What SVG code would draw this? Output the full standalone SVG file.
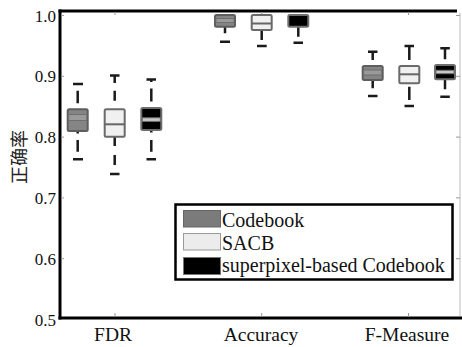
<svg xmlns="http://www.w3.org/2000/svg" width="462" height="347" viewBox="0 0 462 347">
<style>
.t{font-family:"Liberation Serif","Times New Roman",serif;fill:#111}
.yt{font-size:17px;text-anchor:end}
.xt{font-size:19.5px;text-anchor:middle}
.lg{font-size:20px}
.cb{fill:#858585;stroke:#5e5e5e;stroke-width:2}
.sa{fill:#f0f0f0;stroke:#6a6a6a;stroke-width:2}
.sp{fill:#000;stroke:#6e6e6e;stroke-width:2}
.mcb{fill:#9a9a9a;stroke:#6f6f6f;stroke-width:1}
.msa{stroke:#666;stroke-width:2}
.msp{fill:#c8c8c8;stroke:#707070;stroke-width:1}
.w{stroke:#1a1a1a;stroke-width:2.5;fill:none}
.ax{stroke:#000;stroke-width:3;fill:none}
.tk{stroke:#999;stroke-width:1}
</style>
<rect width="462" height="347" fill="#fff"/>
<g id="axes">
<line class="ax" x1="60" y1="9.5" x2="60" y2="319.5"/>
<line class="ax" x1="58.5" y1="11" x2="457" y2="11"/>
<line class="ax" x1="58.5" y1="318" x2="462" y2="318"/>
<line x1="460" y1="13" x2="460" y2="316" stroke="#bbb" stroke-width="1"/>
<g class="tk">
<line x1="61" y1="15.5" x2="64" y2="15.5"/><line x1="61" y1="76.3" x2="64" y2="76.3"/><line x1="61" y1="137.1" x2="64" y2="137.1"/><line x1="61" y1="197.9" x2="64" y2="197.9"/><line x1="61" y1="258.7" x2="64" y2="258.7"/>
<line x1="456" y1="15.5" x2="460" y2="15.5"/><line x1="456" y1="76.3" x2="460" y2="76.3"/><line x1="456" y1="137.1" x2="460" y2="137.1"/><line x1="456" y1="197.9" x2="460" y2="197.9"/><line x1="456" y1="258.7" x2="460" y2="258.7"/>
<line x1="115" y1="12" x2="115" y2="15"/><line x1="261.7" y1="12" x2="261.7" y2="15"/><line x1="408.5" y1="12" x2="408.5" y2="15"/>
<line x1="115" y1="313" x2="115" y2="316.5"/><line x1="261.7" y1="313" x2="261.7" y2="316.5"/><line x1="408.5" y1="313" x2="408.5" y2="316.5"/>
</g>
<text class="t yt" x="56" y="21.5">1.0</text>
<text class="t yt" x="56" y="82.3">0.9</text>
<text class="t yt" x="56" y="143.1">0.8</text>
<text class="t yt" x="56" y="203.9">0.7</text>
<text class="t yt" x="56" y="264.7">0.6</text>
<text class="t yt" x="56" y="325.5">0.5</text>
<text class="t xt" x="113" y="341">FDR</text>
<text class="t xt" x="261" y="341">Accuracy</text>
<text class="t xt" x="407" y="341">F-Measure</text>
<text transform="translate(26,157) rotate(-90)" text-anchor="middle" style="font-family:'Liberation Serif','Noto Sans CJK SC',serif;font-size:18px;fill:#222">正确率</text>
</g>
<g id="connectors">
<path class="w" d="M73 84H83 M77.7 90.7V103.3 M77.7 131V133.5 M77.7 140V151.7 M73 159.3H83"/>
<path class="w" d="M110 75.5H119.5 M114.7 75.5V83 M114.7 90.7V100.7 M114.7 136.7V146 M114.7 155V165 M110 174H119.5"/>
<path class="w" d="M146.5 79.5H156 M151.3 79.5V82 M151.3 88.5V101.5 M151.3 130V132.5 M151.3 140V151.7 M146.5 159.3H156"/>
<path class="w" d="M225 26.7V33.3 M220 41.7H230"/>
<path class="w" d="M261.7 30V40 M257 46H266.7"/>
<path class="w" d="M298.3 27V36.7 M293.5 42.7H303"/>
<path class="w" d="M368 51.7H377.5 M372.7 51.7V60 M372.7 80V88.3 M368 96H377.5"/>
<path class="w" d="M404.5 46H414 M409.3 46V60 M409.3 86.7V100 M404.5 106H414"/>
<path class="w" d="M440.3 48.3H449.8 M445 48.3V59.3 M445 79.3V89.3 M440.3 96.7H449.8"/>
</g>
<g id="fdr-codebook"><rect class="cb" x="67.7" y="109.3" width="20" height="21.7" rx="1.5"/><rect class="mcb" x="68.7" y="114.5" width="18" height="6"/></g>
<g id="fdr-sacb"><rect class="sa" x="104.7" y="109.3" width="20" height="27.4" rx="1.5"/><line class="msa" x1="104.7" y1="124.3" x2="124.7" y2="124.3"/></g>
<g id="fdr-superpixel"><rect class="sp" x="141.3" y="108" width="20" height="22" rx="1.5"/><rect class="msp" x="142.3" y="117.8" width="18" height="3.6"/></g>
<g id="acc-codebook"><rect class="cb" x="215" y="15" width="20" height="11.7" rx="1.5"/><rect class="mcb" x="216" y="18.5" width="18" height="4"/></g>
<g id="acc-sacb"><rect class="sa" x="251.7" y="15" width="20" height="15" rx="1.5"/><line class="msa" x1="251.7" y1="23.5" x2="271.7" y2="23.5"/></g>
<g id="acc-superpixel"><rect class="sp" x="288.3" y="15" width="20" height="11.7" rx="1.5"/></g>
<g id="fm-codebook"><rect class="cb" x="362.7" y="66" width="20" height="14" rx="1.5"/><rect class="mcb" x="363.7" y="70" width="18" height="5"/></g>
<g id="fm-sacb"><rect class="sa" x="399.3" y="66" width="20" height="17.3" rx="1.5"/><line class="msa" x1="399.3" y1="74.3" x2="419.3" y2="74.3"/></g>
<g id="fm-superpixel"><rect class="sp" x="435" y="65" width="20" height="14.3" rx="1.5"/><rect class="msp" x="436" y="70.3" width="18" height="3.4"/></g>
<g id="legend">
<rect x="175.5" y="204.5" width="277" height="75" fill="#fff" stroke="#000" stroke-width="2.5"/>
<rect x="183.5" y="210.5" width="37" height="16.5" fill="#7b7b7b" stroke="#666" stroke-width="1"/>
<rect x="183.5" y="233.5" width="37" height="16.5" fill="#ececec" stroke="#999" stroke-width="1"/>
<rect x="183.5" y="257.5" width="37" height="17" fill="#000" stroke="#777" stroke-width="1"/>
<text class="t lg" x="222" y="227">Codebook</text>
<text class="t lg" x="222" y="249.5">SACB</text>
<text class="t lg" x="222" y="271.5">superpixel-based Codebook</text>
</g>
</svg>
